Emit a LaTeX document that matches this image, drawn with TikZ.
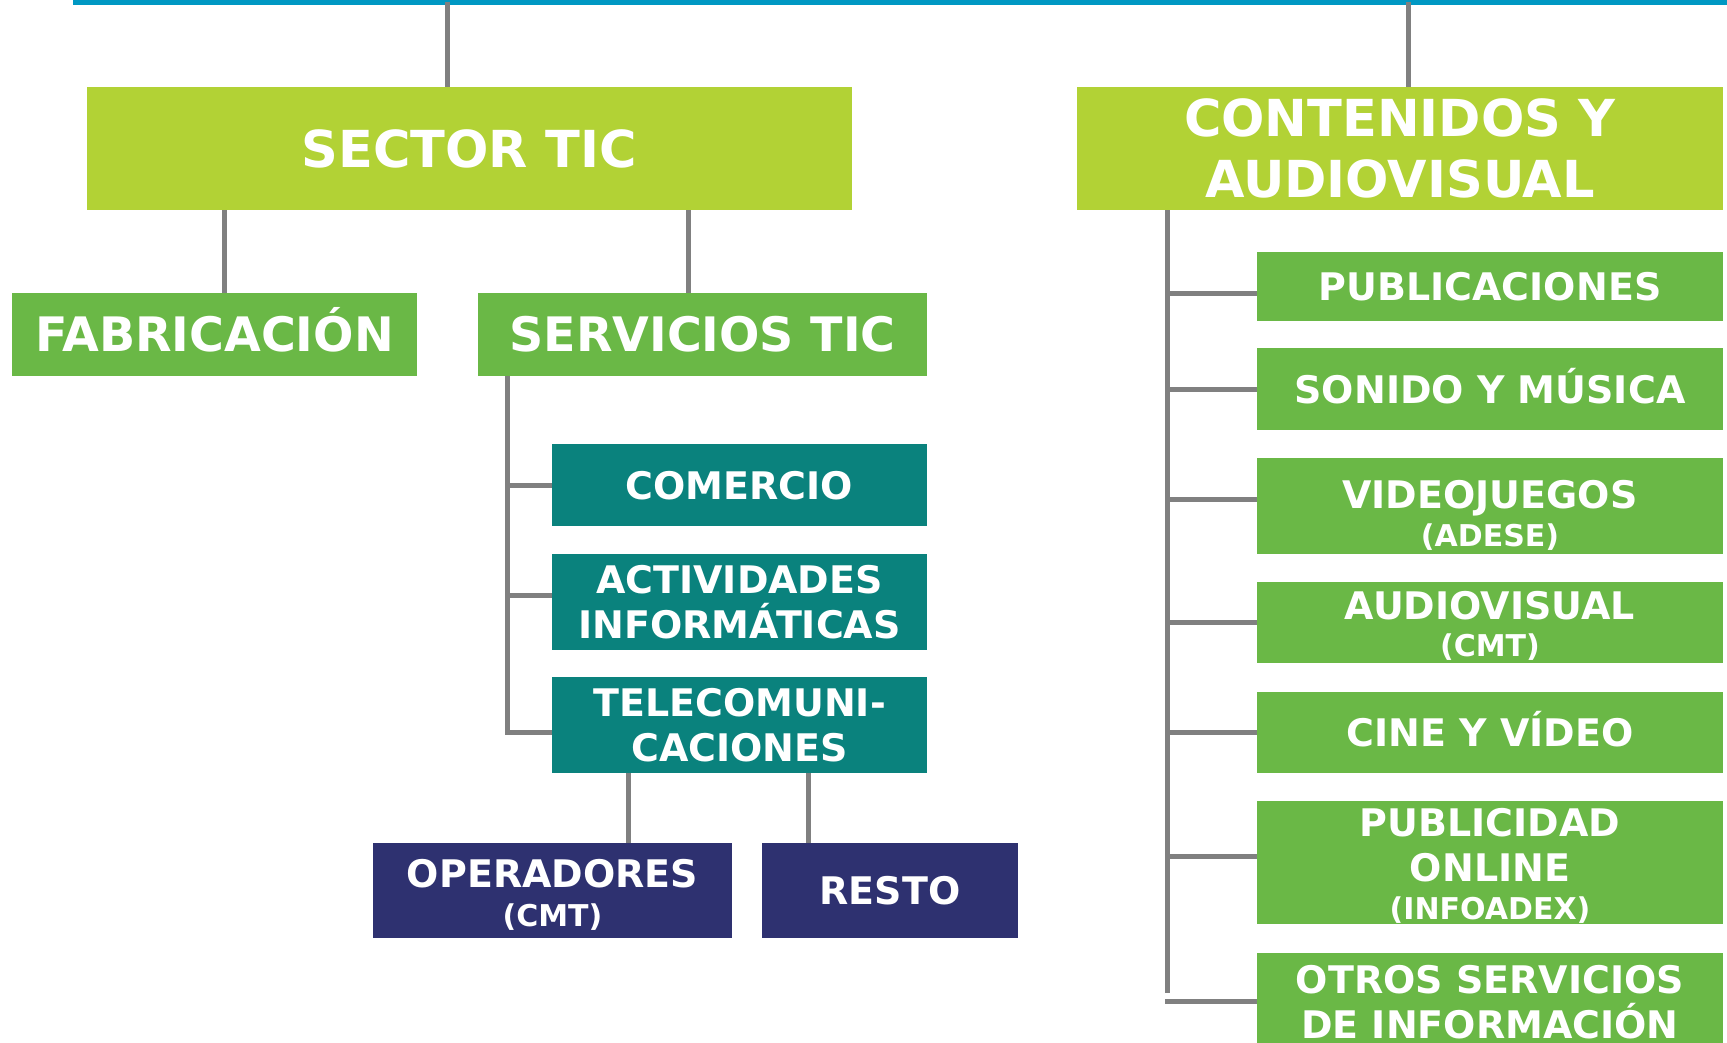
\documentclass[tikz,border=0pt]{standalone}
\usepackage{fontspec}
\setmainfont{DejaVu Sans}
\definecolor{lgreen}{HTML}{B2D235}
\definecolor{mgreen}{HTML}{6AB846}
\definecolor{tealbg}{HTML}{0A827D}
\definecolor{navybg}{HTML}{2E3170}
\definecolor{lineg}{HTML}{808080}
\definecolor{topblue}{HTML}{0098C3}
\newcommand\smtxt[1]{{\fontsize{30}{36}\selectfont #1}}
\begin{document}
\begin{tikzpicture}[x=1pt,y=-1pt,
  conn/.style={draw=lineg, line width=5pt},
  box/.style={rectangle, inner sep=0pt, text=white, align=center},
  lvlone/.style={box, fill=lgreen, minimum height=123pt, font=\bfseries\fontsize{51}{61}\selectfont},
  lvltwo/.style={box, fill=mgreen, minimum height=83pt, text height=34.7pt, text depth=0pt, font=\bfseries\fontsize{47.5}{57}\selectfont},
  tealbox/.style={box, fill=tealbg, minimum width=375pt, font=\bfseries\fontsize{38}{45}\selectfont},
  navybox/.style={box, fill=navybg, minimum height=95pt, font=\bfseries\fontsize{38}{45}\selectfont},
  rbox/.style={box, fill=mgreen, minimum width=466pt, font=\bfseries\fontsize{38}{45}\selectfont},
  oneline/.style={text height=28.5pt, text depth=0pt},
]
\useasboundingbox (0,0) rectangle (1727,1043);
\clip (0,0) rectangle (1727,1043);
% top line
\coordinate (tl) at (73,2.5);
\coordinate (tr) at (1727,2.5);
\draw[topblue, line width=5pt] (tl) -- (tr);
% nodes
\node[lvlone, minimum width=765pt, text height=37.2pt, text depth=0pt] (sector) at (469.5,148.5) {SECTOR TIC};
\node[lvlone, minimum width=646pt] (conten) at (1400,148.5) {CONTENIDOS Y\\AUDIOVISUAL};
\node[lvltwo, minimum width=405pt] (fab) at (214.5,334.5) {FABRICACIÓN};
\node[lvltwo, minimum width=449pt] (serv) at (702.5,334.5) {SERVICIOS TIC};
\node[tealbox, oneline, minimum height=82pt] (comer) at (739.5,485) {COMERCIO};
\node[tealbox, minimum height=96pt] (activ) at (739.5,602) {ACTIVIDADES\\INFORMÁTICAS};
\node[tealbox, minimum height=96pt] (telec) at (739.5,725) {TELECOMUNI-\\CACIONES};
\node[navybox, minimum width=359pt, text height=72.4pt, text depth=0pt] (oper) at (552.5,890.5) {OPERADORES\\[-6pt]\smtxt{(CMT)}};
\node[navybox, oneline, minimum width=256pt] (resto) at (890,890.5) {RESTO};
\node[rbox, oneline, minimum height=69pt] (publ) at (1490,286.5) {PUBLICACIONES};
\node[rbox, oneline, minimum height=82pt] (sonido) at (1490,389) {SONIDO Y MÚSICA};
\node[rbox, minimum height=96pt, text height=81.4pt, text depth=0pt] (video) at (1490,506) {VIDEOJUEGOS\\[-6.5pt]\smtxt{(ADESE)}};
\node[rbox, minimum height=81pt, text height=68.4pt, text depth=0pt] (audio) at (1490,622.5) {AUDIOVISUAL\\[-7.5pt]\smtxt{(CMT)}};
\node[rbox, oneline, minimum height=81pt] (cine) at (1490,732.5) {CINE Y VÍDEO};
\node[rbox, minimum height=123pt, text height=114.4pt, text depth=0pt] (publi) at (1490,862.5) {PUBLICIDAD\\ONLINE\\[-6.5pt]\smtxt{(INFOADEX)}};
\node[rbox, minimum height=98pt] (otros) at (1490,1002) {OTROS SERVICIOS\\DE INFORMACIÓN};
% connectors from top line
\coordinate (c1) at ([xshift=-22.5pt]sector.north);
\draw[conn] (c1) -- (c1 |- tl);
\coordinate (c2) at ([xshift=8pt]conten.north);
\draw[conn] (c2) -- (c2 |- tl);
% sector children
\coordinate (f1) at ([xshift=9.5pt]fab.north);
\draw[conn] (f1) -- (f1 |- sector.south);
\coordinate (s1) at ([xshift=-14.5pt]serv.north);
\draw[conn] (s1) -- (s1 |- sector.south);
% servicios bus
\coordinate (sb) at ([xshift=30pt]serv.south west);
\coordinate (t3) at ([yshift=-7pt]telec.west);
\draw[conn] (sb) |- (t3);
\draw[conn] (comer.west) -- (comer.west -| sb);
\coordinate (t2) at ([yshift=7pt]activ.west);
\draw[conn] (t2) -- (t2 -| sb);
% telecom children
\coordinate (o1) at ([xshift=75.5pt]oper.north);
\draw[conn] (o1) -- (o1 |- telec.south);
\coordinate (r1) at ([xshift=-82pt]resto.north);
\draw[conn] (r1) -- (r1 |- telec.south);
% contenidos bus
\coordinate (cb) at ([xshift=91pt]conten.south west);
\coordinate (cbend) at ([yshift=9pt]otros.west);
\draw[conn] (cb) -- (cb |- cbend);
\coordinate (p1) at ([yshift=-6.5pt]publ.west);
\draw[conn] (p1) -- (p1 -| cb);
\draw[conn] (sonido.west) -- (sonido.west -| cb);
\coordinate (p3) at ([yshift=7pt]video.west);
\draw[conn] (p3) -- (p3 -| cb);
\draw[conn] (audio.west) -- (audio.west -| cb);
\draw[conn] (cine.west) -- (cine.west -| cb);
\coordinate (p6) at ([yshift=6.5pt]publi.west);
\draw[conn] (p6) -- (p6 -| cb);
\coordinate (cbl) at ([xshift=-2.5pt]cb);
\coordinate (p7) at ([yshift=1pt]otros.west);
\draw[conn] (p7) -- (p7 -| cbl);
\end{tikzpicture}
\end{document}
